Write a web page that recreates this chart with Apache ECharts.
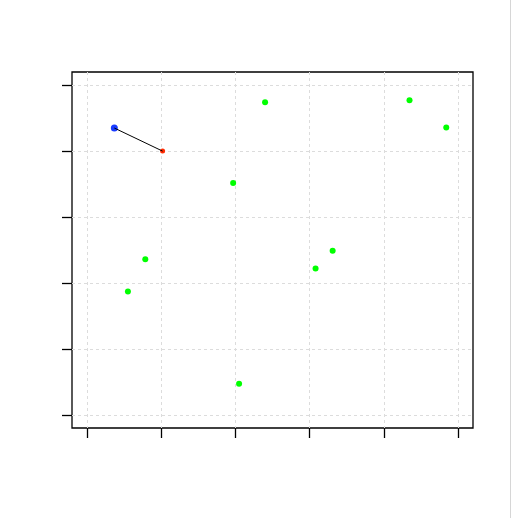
<!DOCTYPE html>
<html>
<head>
<meta charset="utf-8">
<script src="https://cdn.jsdelivr.net/npm/echarts@6/dist/echarts.min.js"></script>
<style>
html,body{margin:0;padding:0;background:#fff;}
#chart{width:511px;height:518px;}
#edge{position:absolute;left:510px;top:0;width:1px;height:518px;background:#d6d6d6;}
</style>
</head>
<body>
<div id="chart"></div>
<div id="edge"></div>
<script>
// Data
const tickValues = [0, 1, 2, 3, 4, 5];
const startPoint = [0.37, 4.35];
const endPoint = [1.02, 4.0];
const greenX = [2.40, 4.345, 4.84, 1.97, 3.31, 3.08, 0.787, 0.553, 2.05];
const greenY = [4.74, 4.77, 4.36, 3.515, 2.49, 2.22, 2.36, 1.87, 0.47];

const greenData = greenX.map((x, i) => [x, greenY[i]]);

const chart = echarts.init(document.getElementById('chart'), null, {renderer: 'canvas'});

function axisCfg() {
  return {
    type: 'value',
    min: -0.2,
    max: 5.2,
    interval: 1,
    axisLine: {show: false, onZero: false},
    axisTick: {show: true, length: 10, inside: false, customValues: tickValues,
      lineStyle: {color: '#000', width: 1.3}},
    axisLabel: {show: false},
    splitLine: {show: true, lineStyle: {color: '#dcdcdc', type: [3, 3], width: 1}}
  };
}

chart.setOption({
  animation: false,
  backgroundColor: '#fff',
  grid: {
    left: 72, top: 72, width: 401, height: 356,
    show: true, borderColor: '#000', borderWidth: 1.3, backgroundColor: 'transparent',
    containLabel: false
  },
  xAxis: axisCfg(),
  yAxis: axisCfg(),
  series: [
    {
      type: 'scatter',
      data: greenData,
      symbol: 'circle',
      symbolSize: 6,
      itemStyle: {color: '#00ff00', opacity: 1},
      z: 3
    },
    {
      type: 'line',
      data: [startPoint, endPoint],
      symbol: 'none',
      lineStyle: {color: '#000', width: 1},
      z: 4
    },
    {
      type: 'scatter',
      data: [startPoint],
      symbol: 'circle',
      symbolSize: 7,
      itemStyle: {color: '#1a3cff', opacity: 1},
      z: 3
    },
    {
      type: 'scatter',
      data: [endPoint],
      symbol: 'circle',
      symbolSize: 5,
      itemStyle: {color: '#ff2a00', opacity: 1},
      z: 3
    }
  ]
});
</script>
</body>
</html>
